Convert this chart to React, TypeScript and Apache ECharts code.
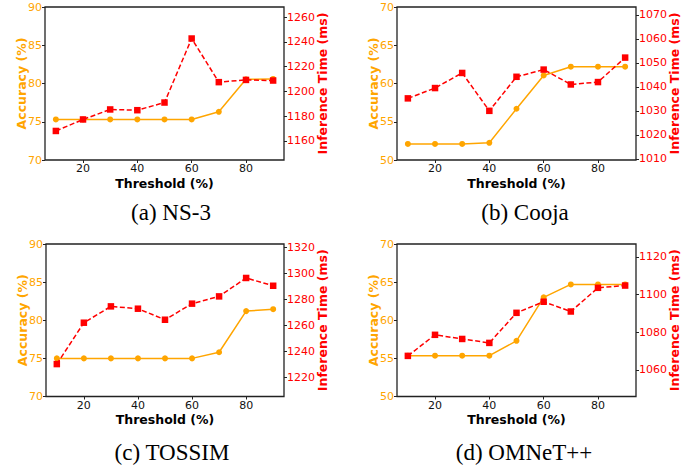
import React, { useEffect, useRef } from "react";
import * as echarts from "echarts";

const thresholds = [10, 20, 30, 40, 50, 60, 70, 80, 90];

const accNS3 = [75.3, 75.3, 75.3, 75.3, 75.3, 75.3, 76.3, 80.55, 80.6];
const timeNS3 = [1168, 1177.3, 1185.4, 1184.8, 1191, 1242.8, 1207.5, 1209.3, 1208.8];

const accCooja = [52.1, 52.1, 52.1, 52.25, 56.7, 61.05, 62.2, 62.2, 62.2];
const timeCooja = [1035.2, 1039.5, 1045.8, 1030, 1044.2, 1047.2, 1041, 1042, 1052.2];

const accTOSSIM = [75, 75, 75, 75, 75, 75, 75.8, 81.2, 81.45];
const timeTOSSIM = [1230, 1261.9, 1274.5, 1272.7, 1264.2, 1276.6, 1282.2, 1296.4, 1290.4];

const accOMNeT = [55.35, 55.35, 55.35, 55.35, 57.3, 63, 64.7, 64.7, 64.7];
const timeOMNeT = [1067.4, 1078.6, 1076.4, 1074.3, 1090.3, 1096.2, 1091, 1103.6, 1104.8];

const xTicks = [20, 40, 60, 80];
const accTicks70 = [70, 75, 80, 85, 90];
const accTicks50 = [50, 55, 60, 65, 70];
const timeTicksNS3 = [1160, 1180, 1200, 1220, 1240, 1260];
const timeTicksCooja = [1010, 1020, 1030, 1040, 1050, 1060, 1070];
const timeTicksTOSSIM = [1220, 1240, 1260, 1280, 1300, 1320];
const timeTicksOMNeT = [1060, 1080, 1100, 1120];

const captions = ["(a) NS-3", "(b) Cooja", "(c) TOSSIM", "(d) OMNeT++"];

const ORANGE = "#FFA500";
const RED = "#FF0000";
const FONT = "DejaVu Sans";

const panels = [
  { acc: accNS3, time: timeNS3, accTicks: accTicks70, accRange: [70, 90], timeTicks: timeTicksNS3, timeRange: [1144.5, 1268.3], rect: { left: 45, top: 7, width: 239, height: 153 }, cap: { x: 171, y: 212 } },
  { acc: accCooja, time: timeCooja, accTicks: accTicks50, accRange: [50, 70], timeTicks: timeTicksCooja, timeRange: [1009.5, 1073.3], rect: { left: 397, top: 7, width: 239, height: 153 }, cap: { x: 525, y: 212 } },
  { acc: accTOSSIM, time: timeTOSSIM, accTicks: accTicks70, accRange: [70, 90], timeTicks: timeTicksTOSSIM, timeRange: [1205, 1322.6], rect: { left: 46, top: 244, width: 238, height: 152.5 }, cap: { x: 172, y: 452 } },
  { acc: accOMNeT, time: timeOMNeT, accTicks: accTicks50, accRange: [50, 70], timeTicks: timeTicksOMNeT, timeRange: [1045.8, 1126.9], rect: { left: 397, top: 244, width: 239, height: 152.5 }, cap: { x: 524, y: 452 } },
];

const fmt = (v: number) => String(v);

export default function App() {
  const ref = useRef<HTMLDivElement>(null);
  useEffect(() => {
    if (!ref.current) return;
    const chart = echarts.init(ref.current, undefined, { renderer: "svg" });
    const grid: any[] = [];
    const xAxis: any[] = [];
    const yAxis: any[] = [];
    const series: any[] = [];
    const graphic: any[] = [];
    panels.forEach((p, i) => {
      grid.push({ ...p.rect, show: true, borderColor: "#222", borderWidth: 1.3, backgroundColor: "transparent" });
      xAxis.push({
        gridIndex: i, type: "value", min: 6, max: 94,
        axisLine: { show: false },
        axisTick: { show: true, customValues: xTicks, length: 3, lineStyle: { color: "#222", width: 1 } },
        axisLabel: { customValues: xTicks, formatter: fmt, color: "#111", fontSize: 11, fontFamily: FONT, margin: 3 },
        splitLine: { show: false },
        name: "Threshold (%)", nameLocation: "middle", nameGap: 16, nameMoveOverlap: false,
        nameTextStyle: { color: "#000", fontWeight: "bold", fontSize: 12.5, fontFamily: FONT, lineHeight: 14 },
      });
      yAxis.push({
        gridIndex: i, type: "value", position: "left", min: p.accRange[0], max: p.accRange[1],
        axisLine: { show: false },
        axisTick: { show: true, customValues: p.accTicks, length: 3, lineStyle: { color: "#222", width: 1 } },
        axisLabel: { customValues: p.accTicks, formatter: fmt, color: ORANGE, fontSize: 11, fontFamily: FONT, margin: 3 },
        splitLine: { show: false },
        name: "Accuracy (%)", nameLocation: "middle", nameGap: 17, nameMoveOverlap: false,
        nameTextStyle: { color: ORANGE, fontWeight: "bold", fontSize: 12.5, fontFamily: FONT, lineHeight: 14 },
      });
      yAxis.push({
        gridIndex: i, type: "value", position: "right", min: p.timeRange[0], max: p.timeRange[1],
        axisLine: { show: false },
        axisTick: { show: true, customValues: p.timeTicks, length: 3, lineStyle: { color: "#222", width: 1 } },
        axisLabel: { customValues: p.timeTicks, formatter: fmt, color: RED, fontSize: 11, fontFamily: FONT, margin: 3 },
        splitLine: { show: false },
        name: "Inference Time (ms)", nameLocation: "middle", nameGap: 31.5, nameMoveOverlap: false,
        nameTextStyle: { color: RED, fontWeight: "bold", fontSize: 12.5, fontFamily: FONT, lineHeight: 14 },
      });
      series.push({
        type: "line", xAxisIndex: i, yAxisIndex: 2 * i,
        data: thresholds.map((t, j) => [t, p.acc[j]]),
        symbol: "circle", symbolSize: 6, showSymbol: true,
        lineStyle: { color: ORANGE, width: 1.5 },
        itemStyle: { color: ORANGE },
        z: 2,
      });
      series.push({
        type: "line", xAxisIndex: i, yAxisIndex: 2 * i + 1,
        data: thresholds.map((t, j) => [t, p.time[j]]),
        symbol: "rect", symbolSize: 6.5, showSymbol: true,
        lineStyle: { color: RED, width: 1.5, type: [5, 2.5] },
        itemStyle: { color: RED },
        z: 3,
      });
      graphic.push({
        type: "text", x: p.cap.x, y: p.cap.y,
        style: { text: captions[i], fontSize: 23, fontFamily: "Liberation Serif", fill: "#000", align: "center", verticalAlign: "middle" },
      });
    });
    chart.setOption({
      animation: false,
      backgroundColor: "#fff",
      grid, xAxis, yAxis, series, graphic,
    });
    return () => chart.dispose();
  }, []);
  return <div ref={ref} style={{ position: "absolute", left: 0, top: 0, width: 699, height: 471 }} />;
}
